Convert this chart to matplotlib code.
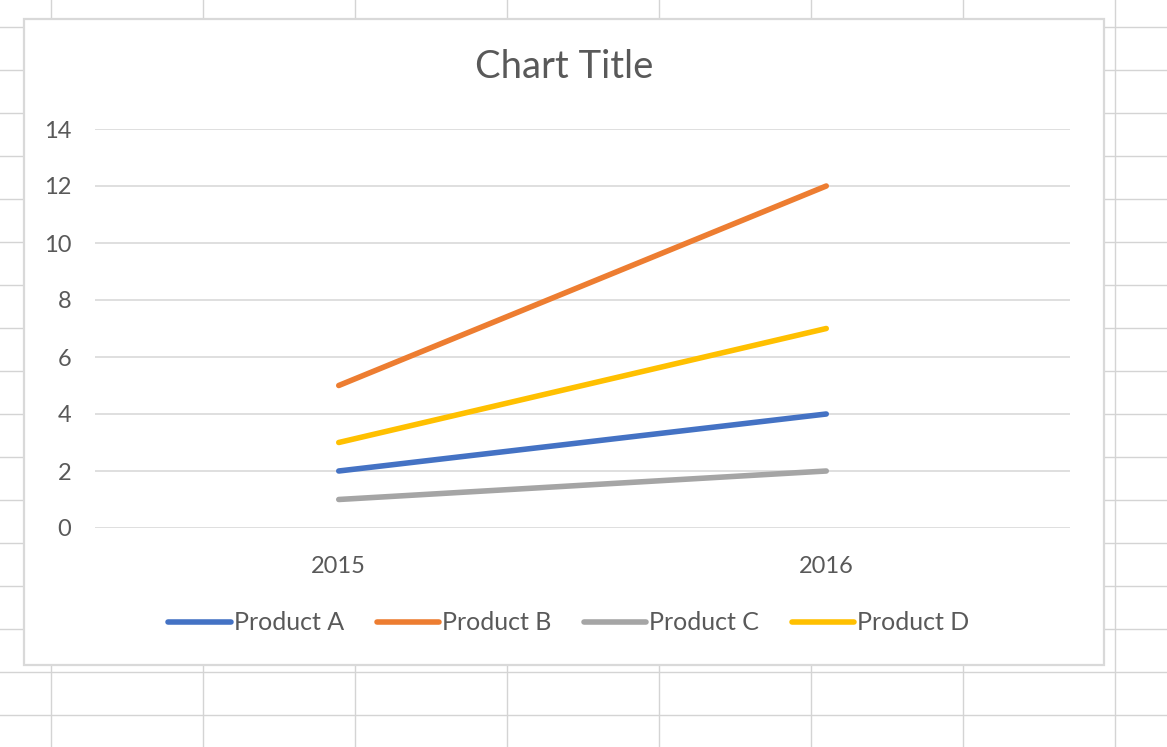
import matplotlib.pyplot as plt
from matplotlib.patches import Rectangle
from matplotlib.lines import Line2D

years = ['2015', '2016']
product_a = [2, 4]
product_b = [5, 12]
product_c = [1, 2]
product_d = [3, 7]
series_names = ['Product A', 'Product B', 'Product C', 'Product D']
colors = ['#4472C4', '#ED7D31', '#A5A5A5', '#FFC000']

W, H = 1167, 747
plt.rcParams['font.family'] = ['Lato', 'DejaVu Sans']
text_col = '#595959'

fig = plt.figure(figsize=(W / 100, H / 100), dpi=100)

# spreadsheet cells behind the chart
for x in range(51, W, 152):
    fig.add_artist(Line2D([x / W, x / W], [0, 1], color='#D4D4D4', lw=1, zorder=0))
for y in range(27, H, 43):
    fig.add_artist(Line2D([0, 1], [1 - y / H, 1 - y / H], color='#D4D4D4', lw=1, zorder=0))

# chart area
fig.add_artist(Rectangle((24 / W, 1 - 665 / H), (1104 - 24) / W, (665 - 19) / H,
                         facecolor='white', edgecolor='#D9D9D9', lw=1.6, zorder=1))

ax = fig.add_axes([95 / W, 1 - 528 / H, (1070 - 95) / W, (528 - 129) / H], zorder=2)
ax.patch.set_alpha(0)

xs = [0.5, 1.5]
for vals, name, c in zip([product_a, product_b, product_c, product_d], series_names, colors):
    ax.plot(xs, vals, color=c, lw=4, solid_capstyle='round', label=name)

ax.set_xlim(0, 2)
ax.set_ylim(0, 14)
ax.set_yticks(range(0, 15, 2))
ax.set_xticks(xs)
ax.set_xticklabels(years)
ax.grid(axis='y', color='#D9D9D9', lw=1.2)
ax.set_axisbelow(True)
for s in ax.spines.values():
    s.set_visible(False)
ax.tick_params(length=0, labelsize=17, labelcolor=text_col)
ax.tick_params(axis='y', pad=17)
ax.tick_params(axis='x', pad=20)

fig.text(564 / W, 1 - 67 / H, 'Chart Title', ha='center', va='center',
         fontsize=27.5, color=text_col)

fig.legend(loc='center', bbox_to_anchor=(569 / W, 1 - 623 / H), ncol=4, frameon=False,
           fontsize=18, labelcolor=text_col, handlelength=2.5, handletextpad=0.12,
           columnspacing=1.3)

fig.savefig('out.png', dpi=100)
